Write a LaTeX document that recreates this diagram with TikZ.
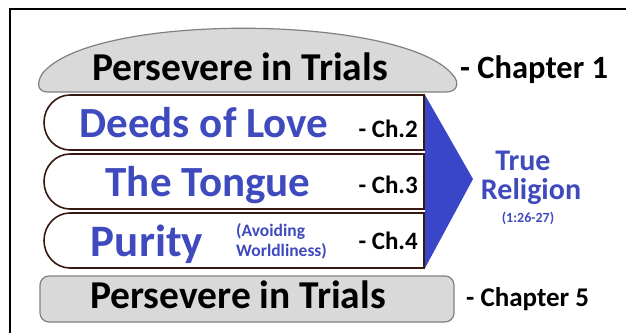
\documentclass[tikz,border=0pt]{standalone}
\usepackage{fontspec}
\setmainfont{Carlito}
\usetikzlibrary{positioning}
\definecolor{bunfill}{RGB}{217,217,217}
\definecolor{bunline}{RGB}{128,128,128}
\definecolor{crust}{RGB}{55,25,18}
\definecolor{relblue}{RGB}{58,70,200}
\definecolor{txtblue}{RGB}{62,74,190}

\begin{document}
\begin{tikzpicture}[x=1pt, y=-1pt,
  bun/.style={fill=bunfill, draw=bunline, line width=1.2pt},
  layer/.style={fill=white, draw=crust, line width=1.6pt},
  title/.style={font=\bfseries\fontsize{39.5}{40}\selectfont, anchor=base, inner sep=0pt},
  topic/.style={font=\bfseries\fontsize{43}{43}\selectfont, text=txtblue, anchor=base, inner sep=0pt},
  chap/.style={font=\bfseries\fontsize{27}{27}\selectfont, anchor=base west, inner sep=0pt},
  ch/.style={font=\bfseries\fontsize{25}{25}\selectfont, anchor=base east, inner sep=0pt},
  rel/.style={font=\bfseries\fontsize{30}{30}\selectfont, text=txtblue, anchor=base, inner sep=0pt}
]
\useasboundingbox (0,0) rectangle (626,333);
\draw[line width=2pt] (10,333) -- (10,9) -- (626,9);

% buns
\draw[bun] (48,92) -- (446,92) .. controls (458,92) and (460,82) .. (452,74)
  .. controls (400,14) and (90,12) .. (42,74) .. controls (36,84) and (38,92) .. (48,92) -- cycle;
\draw[bun, rounded corners=9pt] (40,276) rectangle (454,322);

% layers
\foreach \t/\b in {95/150, 154/209, 213/268}
  \draw[layer] (424,\t) -- (70,\t) arc[start angle=270, end angle=90, x radius=26, y radius={(\b-\t)/2}] -- (424,\b) -- cycle;
\fill[relblue] (425,95) -- (473,179) -- (425,268) -- cycle;

\node (top) at (240,80) [title] {Persevere in Trials};
\node (bot) at (238,308) [title] {Persevere in Trials};
\node (c1) at (460,78) [chap, font=\bfseries\fontsize{32.5}{33}\selectfont] {- Chapter 1};
\node (c5) at (466,306) [chap] {- Chapter 5};

\node (love) at (204,137) [topic] {Deeds of Love};
\node (tongue) at (208,196) [topic] {The Tongue};
\node (purity) at (147,256) [topic, font=\bfseries\fontsize{45}{45}\selectfont] {Purity};
\node (avoid) at (236,241) [font=\bfseries\fontsize{17.5}{20}\selectfont, text=txtblue, align=left, anchor=west, inner sep=0pt] {(Avoiding\\Worldliness)};

\node (ch2) at (418,137) [ch] {- Ch.2};
\node (ch3) at (418,193) [ch] {- Ch.3};
\node (ch4) at (418,249) [ch] {- Ch.4};

\node (true) at (523,170) [rel] {True};
\node (religion) at (531,199) [rel] {Religion};
\node (verse) at (528,222) [rel, font=\bfseries\fontsize{14}{14}\selectfont] {(1:26-27)};

\end{tikzpicture}
\end{document}
